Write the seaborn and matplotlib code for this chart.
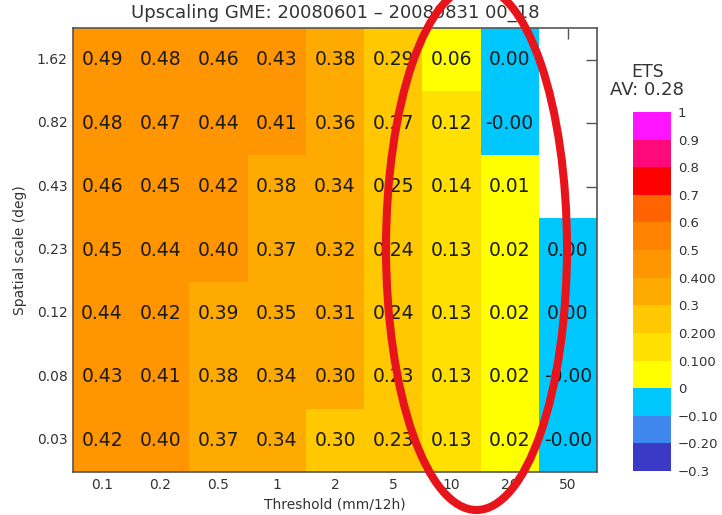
import numpy as np
import pandas as pd
import matplotlib
matplotlib.use("Agg")
import matplotlib.pyplot as plt
import seaborn as sns
from matplotlib.colors import ListedColormap, BoundaryNorm
from matplotlib.patches import Ellipse

# ---- data -------------------------------------------------------------
thresholds = ["0.1", "0.2", "0.5", "1", "2", "5", "10", "20", "50"]
scales = ["1.62", "0.82", "0.43", "0.23", "0.12", "0.08", "0.03"]

nan = np.nan
ets_162 = [0.49, 0.48, 0.46, 0.43, 0.38, 0.29, 0.06, 0.000, nan]
ets_082 = [0.48, 0.47, 0.44, 0.41, 0.36, 0.27, 0.12, -0.002, nan]
ets_043 = [0.46, 0.45, 0.42, 0.38, 0.34, 0.25, 0.14, 0.01, nan]
ets_023 = [0.45, 0.44, 0.401, 0.37, 0.32, 0.24, 0.13, 0.02, 0.000]
ets_012 = [0.44, 0.42, 0.39, 0.35, 0.31, 0.24, 0.13, 0.02, 0.000]
ets_008 = [0.43, 0.41, 0.38, 0.34, 0.302, 0.23, 0.13, 0.02, -0.002]
ets_003 = [0.42, 0.401, 0.37, 0.34, 0.298, 0.23, 0.13, 0.02, -0.002]

ets_average = 0.28

levels = [-0.3, -0.2, -0.1, 0.0, 0.1, 0.2, 0.3, 0.4, 0.5, 0.6, 0.7, 0.8, 0.9, 1.0]
level_labels = ["\u22120.3", "\u22120.20", "\u22120.10", "0", "0.100", "0.200",
                "0.3", "0.400", "0.5", "0.6", "0.7", "0.8", "0.9", "1"]
level_colors = ["#3a3ac6", "#3f86ef", "#00c8ff", "#ffff00", "#ffe000", "#ffc800",
                "#ffaa00", "#ff9500", "#ff8200", "#ff6400", "#ff0000", "#ff0a78",
                "#ff14ff"]

df = pd.DataFrame([ets_162, ets_082, ets_043, ets_023, ets_012, ets_008, ets_003],
                  index=scales, columns=thresholds)

# ---- style ------------------------------------------------------------
sns.set_theme(style="white")
plt.rcParams["font.family"] = ["DejaVu Sans"]
text_col = "#333333"

W, H = 722, 515
fig = plt.figure(figsize=(W / 100, H / 100), dpi=100)

def fx(px):
    return px / W

def fy(py):
    return 1 - py / H

# intervals closed on the right, so a zero score falls in the cyan class
edges = np.array(levels) + 1e-9
cmap = ListedColormap(level_colors)
norm = BoundaryNorm(edges, cmap.N)

left, right, top, bottom = 73, 597, 28, 472
ax = fig.add_axes([fx(left), fy(bottom), fx(right - left), (bottom - top) / H])
sns.heatmap(df, ax=ax, cmap=cmap, norm=norm, cbar=False, annot=True, fmt=".2f",
            annot_kws=dict(fontsize=13.5, color="#1a1a1a"))

ax.set_axisbelow(True)
for s in ax.spines.values():
    s.set_visible(True)
    s.set_color("#555555")
    s.set_linewidth(1.2)
ax.tick_params(axis="both", direction="in", length=8, width=1, color="#555555",
               top=True, right=True, labelsize=10, labelcolor=text_col)
ax.tick_params(axis="y", pad=4)
ax.tick_params(axis="x", pad=4)
ax.set_xticklabels(thresholds, rotation=0)
ax.set_yticklabels(scales, rotation=0)
ax.set_xlabel("")
ax.set_ylabel("")

fig.text(fx(335), fy(13), "Upscaling GME: 20080601 \u2013 20080831 00_18",
         ha="center", va="center", fontsize=13, color=text_col)
fig.text(fx(335), fy(504), "Threshold (mm/12h)", ha="center", va="center",
         fontsize=10, color=text_col)
fig.text(fx(20), fy(250), "Spatial scale (deg)", ha="center", va="center",
         rotation=90, fontsize=10, color=text_col)

# ---- colour bar ---------------------------------------------------------
cax = fig.add_axes([fx(633), fy(471), fx(671 - 633), (471 - 112) / H])
cb = fig.colorbar(ax.collections[0], cax=cax, ticks=edges)
cb.set_ticklabels(level_labels)
cb.outline.set_visible(False)
cax.tick_params(length=0, pad=5, labelsize=9.5, labelcolor=text_col)

fig.text(fx(648), fy(72), "ETS", ha="center", va="center", fontsize=12.5, color=text_col)
fig.text(fx(647), fy(90), f"AV: {ets_average:.2f}", ha="center", va="center",
         fontsize=13, color=text_col)

# ---- highlight ring round the 10 and 20 mm columns ------------------------
ring = Ellipse((fx(476.5), fy(248)), width=181 / W, height=524 / H,
               transform=fig.transFigure, fill=False, edgecolor="#e8141c",
               linewidth=5.8, clip_on=False, zorder=10)
fig.add_artist(ring)

fig.savefig("out.png", dpi=100)
